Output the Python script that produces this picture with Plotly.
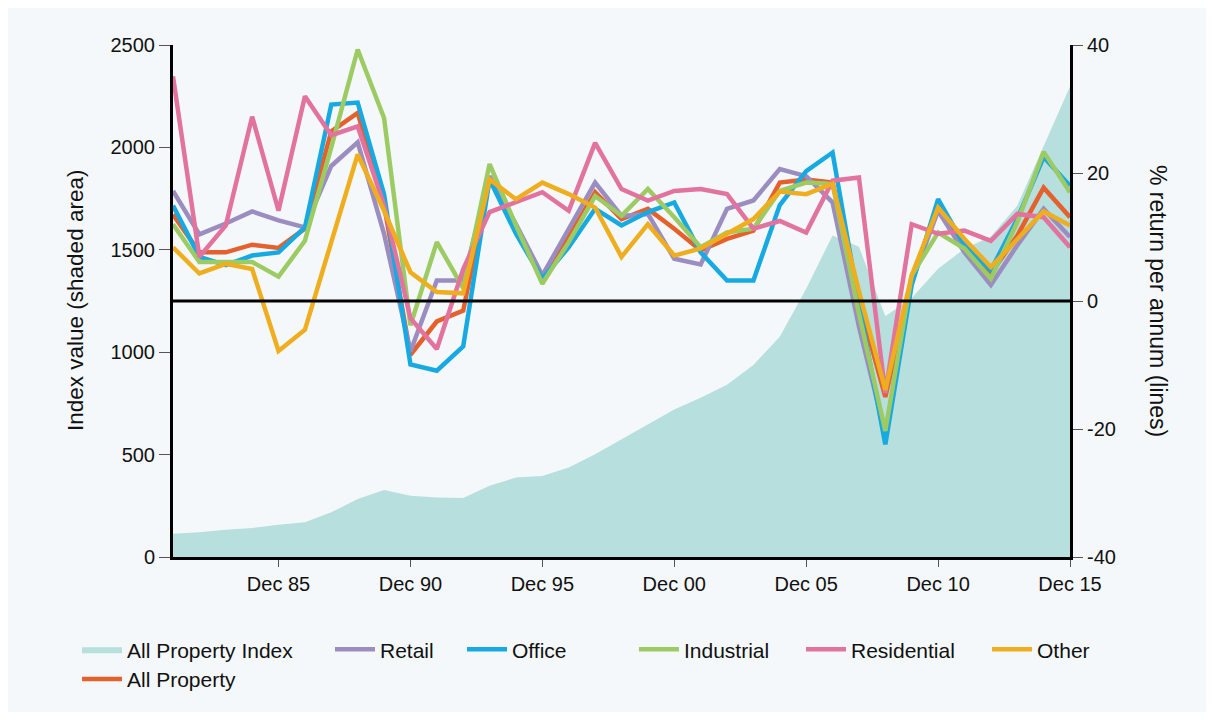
import plotly.graph_objects as go

years = list(range(1981, 2016))
tick_years = [1985, 1990, 1995, 2000, 2005, 2010, 2015]
tick_labels = ["Dec 85", "Dec 90", "Dec 95", "Dec 00", "Dec 05", "Dec 10", "Dec 15"]
return_ticks = [-40, -20, 0, 20, 40]
return_tick_labels = ["-40", "-20", "0", "20", "40"]

index_values = [113, 121, 133, 142, 157, 170, 218, 283, 327, 299, 291, 288, 348, 388, 396,
                437, 502, 574, 647, 720, 777, 841, 938, 1076, 1310, 1570, 1515, 1175, 1265,
                1408, 1505, 1565, 1715, 2010, 2297]

retail = [17.2, 10.4, 12.1, 14.0, 12.6, 11.5, 21.1, 24.8, 10.5, -7.9, 3.2, 3.2, 19.5, 12.0, 4.0,
          11.3, 18.5, 13.3, 13.6, 6.6, 5.7, 14.4, 15.7, 20.6, 19.5, 15.4, -4.0, -20.8, 3.0,
          14.1, 7.6, 2.5, 8.7, 14.4, 10.0]
office = [14.9, 6.9, 5.6, 7.1, 7.6, 11.5, 30.7, 31.0, 16.7, -9.9, -10.9, -7.1, 19.0, 10.5, 3.5,
          8.4, 14.4, 11.8, 13.9, 15.4, 7.6, 3.2, 3.2, 15.0, 20.3, 23.2, -0.5, -22.4, 2.5,
          15.9, 8.7, 4.8, 12.8, 22.5, 18.0]
industrial = [12.0, 6.1, 6.1, 6.1, 3.8, 9.4, 24.0, 39.3, 28.6, -3.8, 9.2, 2.0, 21.4, 11.8, 2.7,
              9.2, 16.4, 13.3, 17.5, 13.1, 8.4, 10.7, 11.3, 17.2, 18.5, 18.3, -2.0, -20.3, 4.0,
              10.7, 8.2, 3.5, 12.3, 23.3, 17.0]
residential = [35.1, 6.9, 11.8, 28.8, 14.1, 32.0, 25.9, 27.3, 15.0, -2.7, -7.5, 5.0, 13.9, 15.4, 17.0,
               14.1, 24.7, 17.5, 15.7, 17.2, 17.5, 16.7, 11.3, 12.5, 10.7, 18.8, 19.3, -14.4, 12.0,
               10.5, 11.0, 9.4, 13.6, 13.1, 8.4]
other = [8.4, 4.3, 5.8, 5.0, -7.8, -4.5, 9.2, 22.9, 14.1, 4.5, 1.4, 1.2, 19.0, 15.9, 18.5,
         16.7, 14.6, 6.9, 12.0, 7.1, 8.2, 10.5, 12.8, 17.1, 16.7, 18.3, 1.5, -13.9, 4.0,
         14.6, 9.7, 5.3, 9.7, 14.0, 11.8]
all_property = [13.5, 7.6, 7.6, 8.8, 8.3, 11.3, 26.5, 29.4, 15.0, -8.4, -3.2, -1.5, 19.0, 11.5, 3.5,
                10.0, 17.0, 12.8, 14.4, 11.3, 7.9, 9.7, 11.0, 18.5, 19.0, 18.5, 0.0, -15.0, 3.0,
                15.0, 8.7, 4.3, 10.2, 17.7, 13.1]

FONT = "Liberation Sans, Arial, Helvetica, sans-serif"
BG = "#f4f8fa"
TXT = "#111111"

fig = go.Figure()

fig.add_trace(go.Scatter(
    x=years, y=index_values, name="All Property Index", mode="lines",
    line=dict(width=0, color="#b6dfdd"), fill="tozeroy", fillcolor="#b6dfdd",
    yaxis="y", legend="legend", hoverinfo="skip"))

series = [
    ("All Property", all_property, "#e4602d", "legend7"),
    ("Retail", retail, "#9b8dc0", "legend2"),
    ("Office", office, "#17a9e1", "legend3"),
    ("Industrial", industrial, "#9ccb64", "legend4"),
    ("Residential", residential, "#e2739f", "legend5"),
    ("Other", other, "#efae1f", "legend6"),
]
for name, vals, col, lg in series:
    fig.add_trace(go.Scatter(
        x=years, y=vals, name=name, mode="lines",
        line=dict(color=col, width=4.5), yaxis="y2", legend=lg))

fig.add_shape(type="line", xref="x domain", x0=0, x1=1, yref="y2", y0=0, y1=0,
              line=dict(color="black", width=3), layer="above")

def leg(xpos, ypos):
    return dict(orientation="h", x=xpos, y=ypos, xanchor="left", yanchor="top",
                font=dict(size=21, family=FONT, color=TXT),
                bgcolor="rgba(0,0,0,0)", itemwidth=40)

ROW1 = -0.141
ROW2 = -0.199

fig.update_layout(
    width=1198, height=704,
    paper_bgcolor=BG, plot_bgcolor=BG,
    margin=dict(l=165, r=136, t=37, b=152),
    font=dict(family=FONT, size=20, color=TXT),
    showlegend=True,
    legend=leg(-0.107, ROW1),
    legend2=leg(0.175, ROW1),
    legend3=leg(0.3222, ROW1),
    legend4=leg(0.5139, ROW1),
    legend5=leg(0.7001, ROW1),
    legend6=leg(0.9075, ROW1),
    legend7=leg(-0.107, ROW2),
    xaxis=dict(range=[1981, 2015], tickmode="array", tickvals=tick_years, ticktext=tick_labels,
               showgrid=False, zeroline=False, showline=True, linecolor="black", linewidth=3,
               ticks="outside", ticklen=7, tickcolor="#555555", tickwidth=1,
               tickfont=dict(size=20, family=FONT, color=TXT)),
    yaxis=dict(range=[0, 2500], dtick=500, showgrid=False, zeroline=False,
               showline=True, linecolor="black", linewidth=3,
               ticks="outside", ticklen=11, tickcolor="#555555", tickwidth=1,
               tickfont=dict(size=20, family=FONT, color=TXT)),
    yaxis2=dict(range=[-40, 40], tickmode="array", tickvals=return_ticks, ticktext=return_tick_labels,
                overlaying="y", side="right", showgrid=False,
                zeroline=False, showline=True, linecolor="black", linewidth=3,
                ticks="outside", ticklen=10, tickcolor="#555555", tickwidth=1,
                tickfont=dict(size=20, family=FONT, color=TXT)),
    annotations=[
        dict(text="Index value (shaded area)", xref="paper", yref="paper",
             x=(75 - 173) / 897, y=0.5, textangle=-90, showarrow=False,
             font=dict(size=22.5, family=FONT, color=TXT),
             xanchor="center", yanchor="middle"),
        dict(text="% return per annum (lines)", xref="paper", yref="paper",
             x=(1158 - 173) / 897, y=0.5, textangle=90, showarrow=False,
             font=dict(size=23, family=FONT, color=TXT),
             xanchor="center", yanchor="middle"),
    ],
)

fig.write_html("out.html")
